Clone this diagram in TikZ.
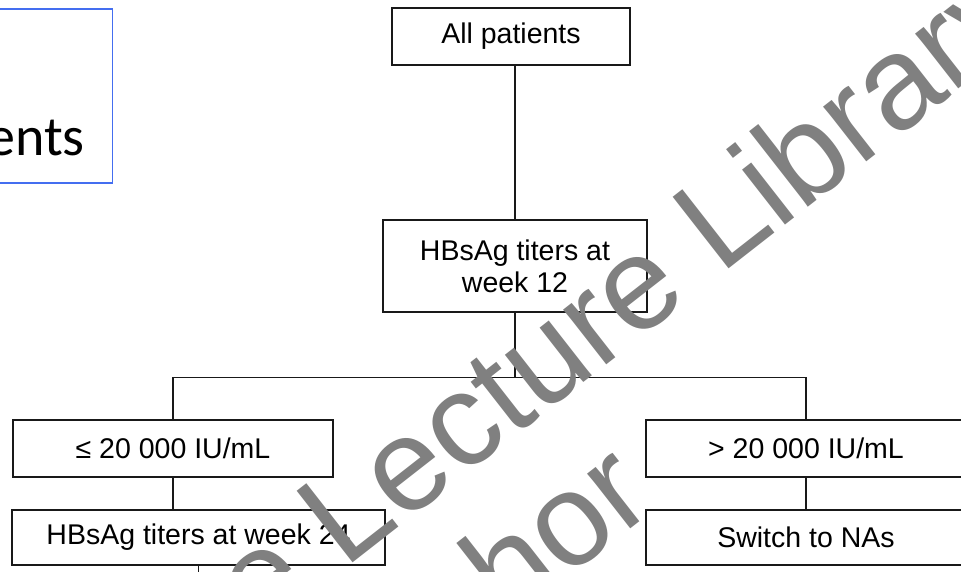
\documentclass[tikz,border=0pt]{standalone}
\usepackage{fontspec}
\setmainfont{Liberation Sans}
\newfontfamily\slidefont{Carlito}
\usepackage{tikz}
\definecolor{slideblue}{RGB}{68,110,240}
\definecolor{markgray}{RGB}{128,128,128}

\begin{document}
\begin{tikzpicture}[x=1pt,y=-1pt,
    box/.style={draw=black!90,line width=1.5pt,inner sep=0pt,align=center,
      font=\fontsize{28.5}{32}\selectfont},
    link/.style={draw=black!90,line width=1.6pt},
    wmark/.style={text=markgray,rotate=38,inner sep=0pt,anchor=base west,
      font=\fontsize{132}{132}\selectfont}]

    \useasboundingbox (0,0) rectangle (961,571);
    \clip (0,0) rectangle (961,571);

    % slide title, cut at the left edge
    \node[draw=slideblue,line width=1.5pt,minimum width=313,minimum height=174,
      anchor=north east] (titlebox) at (113,8) {};
    \node[anchor=base east,inner sep=0pt,font=\slidefont\fontsize{56}{60}\selectfont]
      (title) at (85,155) {ents};

    %%%%%%%%%%%%%%%%%%%%%%%%%%%%%%%%%%%%

    \node[box,minimum width=238,minimum height=57] (allp) at (511,36.5) {All patients};
    \node[box,minimum width=264,minimum height=92] (wk12) at (515,266) {HBsAg titers at\\week 12};

    \node[box,minimum width=320,minimum height=57] (low) at (173,448.5) {≤ 20 000 IU/mL};
    \node[box,minimum width=373,minimum height=55] (wk24) at (198.5,537.5) {HBsAg titers at week 24};

    \node[box,minimum width=320,minimum height=57] (high) at (806,448.5) {> 20 000 IU/mL};
    \node[box,minimum width=320,minimum height=55] (nas) at (806,537.5) {Switch to NAs};

    \coordinate (split) at (515,377.5);
    \coordinate (more) at (198.5,580);

    \draw[link] (wk12.north |- allp.south) -- (wk12.north);
    \draw[link] (wk12.south) -- (split);
    \draw[link] (low.north) |- (split) -| (high.north);
    \draw[link] (low.south) -- (low.south |- wk24.north);
    \draw[link] (high.south) -- (nas.north);
    \draw[link] (wk24.south) -- (more);

    %%%%%%%%%%%%%%%%%%%%%%%%%%%%%%%%%%%%

    \node[wmark] (wm1) at (258,637) {e Lecture Library};
    \node[wmark] (wm2) at (508,625) {hor};

\end{tikzpicture}
\end{document}
